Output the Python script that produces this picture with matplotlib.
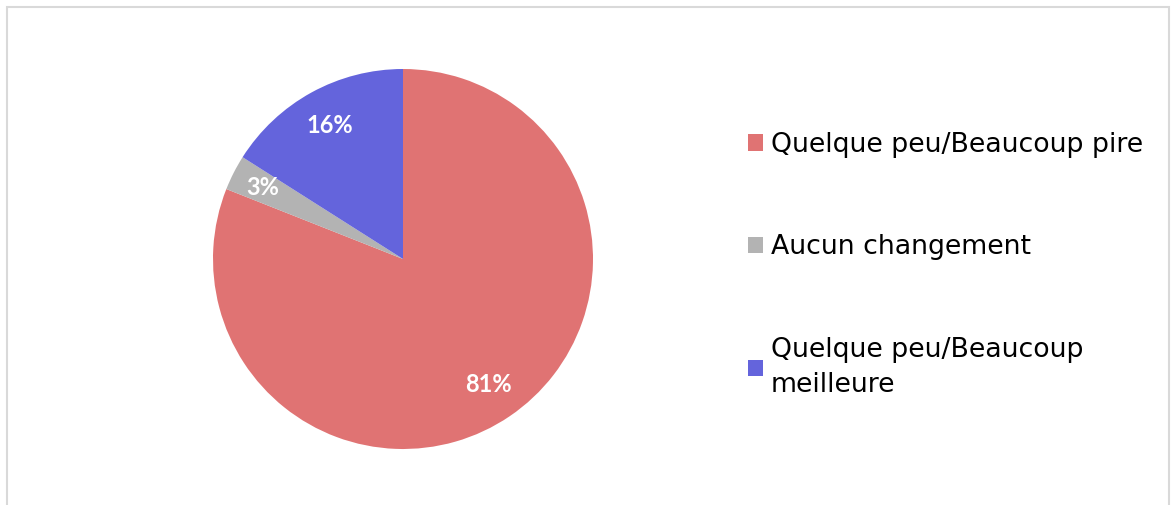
import math
import matplotlib.pyplot as plt
from matplotlib.patches import Rectangle, Patch

# donnees du graphique
categories = ["Quelque peu/Beaucoup pire", "Aucun changement", "Quelque peu/Beaucoup\nmeilleure"]
valeurs = [81, 3, 16]
couleurs = ["#E07373", "#B3B3B3", "#6464DC"]

plt.rcParams['font.family'] = ['Lato', 'DejaVu Sans']

fig = plt.figure(figsize=(11.71, 5.05), dpi=100)

# cadre gris autour du graphique
cadre = Rectangle((7 / 1171, -0.05), (1169 - 7) / 1171, 1.05 - 7 / 505,
                  transform=fig.transFigure, fill=False, edgecolor="#D9D9D9", lw=1.5)
fig.patches.append(cadre)

# axe du camembert (centre ~ (403,259), rayon ~190 px)
ax = fig.add_axes([(403 - 190) / 1171, (505 - 449) / 505, 380 / 1171, 380 / 505])
wedges, textes = ax.pie(valeurs, colors=couleurs, startangle=90, counterclock=False,
                        radius=1, wedgeprops=dict(linewidth=0))
for w, v in zip(wedges, valeurs):
    ang = math.radians((w.theta1 + w.theta2) / 2)
    r = 0.80 if v > 5 else 0.83
    ax.text(r * math.cos(ang), r * math.sin(ang), f"{v}%", ha="center", va="center",
            color="white", fontsize=17, fontweight="bold")
ax.set_xlim(-1, 1)
ax.set_ylim(-1, 1)
ax.set_aspect("equal")
ax.axis("off")

# legende
poignees = [Patch(facecolor=c, edgecolor="none") for c in couleurs]
leg = fig.legend(poignees, categories, loc="upper left", bbox_to_anchor=(748 / 1171, 1 - 132 / 505),
                 frameon=False, prop={"family": "DejaVu Sans", "size": 19.3},
                 handlelength=0.55, handleheight=0.55,
                 handletextpad=0.3, labelspacing=2.85, borderaxespad=0, borderpad=0)
for t in leg.get_texts():
    t.set_linespacing(1.45)

fig.savefig("out.png", dpi=100)
